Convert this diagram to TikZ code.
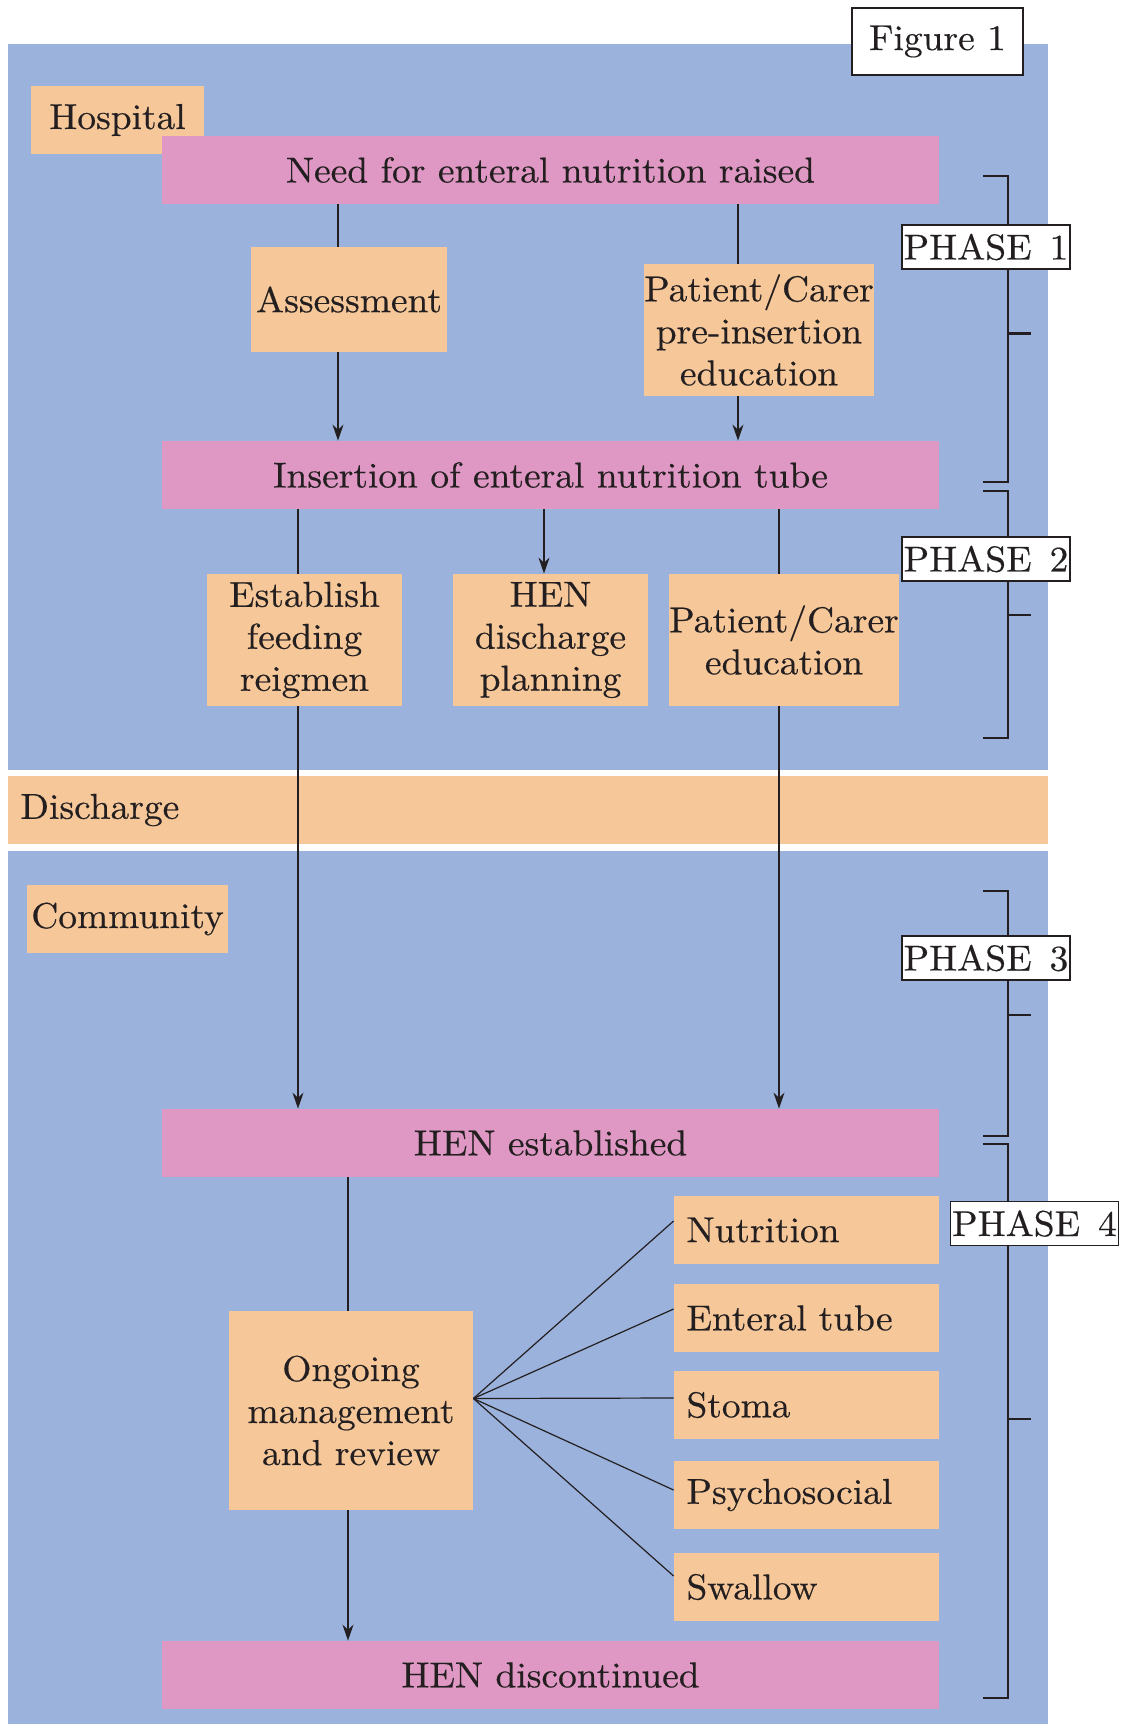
\documentclass[tikz,border=0pt]{standalone}
\usepackage{fontspec}
\setmainfont{lmroman10-regular.otf}[FakeStretch=1.04, FakeBold=0.4]
\usetikzlibrary{arrows.meta,calc}
\definecolor{bluebg}{RGB}{155,178,220}
\definecolor{orangebox}{RGB}{246,199,153}
\definecolor{pinkbox}{RGB}{223,152,195}
\definecolor{ink}{RGB}{35,31,32}
\begin{document}
\begin{tikzpicture}[x=0.5pt,y=-0.5pt,
  every node/.style={font=\fontsize{18}{21}\selectfont, text=ink, inner sep=0pt},
  obox/.style={fill=orangebox, align=center},
  pbox/.style={fill=pinkbox, minimum width=388.5pt, minimum height=34pt},
  lbox/.style={fill=orangebox, minimum width=132.5pt, minimum height=34pt, text width=120pt, align=left},
  phbox/.style={draw=ink, line width=0.6pt, fill=white, minimum width=84pt, minimum height=22pt},
  conn/.style={draw=ink, line width=0.8pt},
  fanline/.style={draw=ink, line width=0.6pt},
  arr/.style={conn, -{Stealth[length=8pt,width=5.5pt]}},
  brk/.style={draw=ink, line width=1.4pt},
]
\useasboundingbox (0,0) rectangle (1123,1724);
% backgrounds
\fill[bluebg] (8,44) rectangle (1048,770);
\fill[orangebox] (8,776) rectangle (1048,844);
\fill[bluebg] (8,851) rectangle (1048,1724);

\node[draw=ink, line width=0.6pt, fill=white, minimum width=85.5pt, minimum height=33.5pt] (fig) at (937.5,41.5) {Figure 1};

% labels
\node[obox, minimum width=86.5pt, minimum height=34pt] (hosp) at (117.5,120) {Hospital};
\node[anchor=west] (disch) at (20,810) {Discharge};
\node[obox, minimum width=100.5pt, minimum height=34pt] (comm) at (127.5,919) {Community};

% main boxes
\node[pbox] (need) at (550.5,170) {Need for enteral nutrition raised};
\node[obox, minimum width=98pt, minimum height=52.5pt] (assess) at (349,299.5) {Assessment};
\node[obox, minimum width=115pt, minimum height=66pt] (preedu) at (759,330) {Patient/Carer\\pre-insertion\\education};
\node[pbox] (insert) at (550.5,475) {Insertion of enteral nutrition tube};
\node[obox, minimum width=97.5pt, minimum height=66pt] (estab) at (304.5,640) {Establish\\feeding\\reigmen};
\node[obox, minimum width=97.5pt, minimum height=66pt] (hendp) at (550.5,640) {HEN\\discharge\\planning};
\node[obox, minimum width=114pt, minimum height=66pt] (edu) at (784,640) {Patient/Carer\\education};
\node[pbox] (established) at (550.5,1143) {HEN established};
\node[obox, minimum width=122pt, minimum height=99.5pt] (ongoing) at (351,1410.5) {Ongoing\\management\\and review};
\node[lbox] (nut) at (806.5,1230) {Nutrition};
\node[lbox] (tube) at (806.5,1318) {Enteral tube};
\node[lbox] (stoma) at (806.5,1405) {Stoma};
\node[lbox] (psy) at (806.5,1495) {Psychosocial};
\node[lbox] (swallow) at (806.5,1587) {Swallow};
\node[pbox] (discont) at (550.5,1675) {HEN discontinued};

% connector x positions
\coordinate (xa) at (338,0);
\coordinate (xb) at (738,0);
\coordinate (xc) at (298,0);
\coordinate (xd) at (544,0);
\coordinate (xe) at (779,0);
\coordinate (xf) at (348,0);

\draw[conn] (need.south -| xa) -- (assess.north -| xa);
\draw[arr] (assess.south -| xa) -- (insert.north -| xa);
\draw[conn] (need.south -| xb) -- (preedu.north -| xb);
\draw[arr] (preedu.south -| xb) -- (insert.north -| xb);
\draw[conn] (insert.south -| xc) -- (estab.north -| xc);
\draw[arr] (estab.south -| xc) -- (established.north -| xc);
\draw[arr] (insert.south -| xd) -- (hendp.north -| xd);
\draw[conn] (insert.south -| xe) -- (edu.north -| xe);
\draw[arr] (edu.south -| xe) -- (established.north -| xe);
\draw[conn] (established.south -| xf) -- (ongoing.north -| xf);
\draw[arr] (ongoing.south -| xf) -- (discont.north -| xf);

% fan
\coordinate (fan) at ([yshift=6pt]ongoing.east);
\draw[fanline] (fan) -- ([yshift=4.5pt]nut.west);
\draw[fanline] (fan) -- ([yshift=4.5pt]tube.west);
\draw[fanline] (fan) -- ([yshift=3.5pt]stoma.west);
\draw[fanline] (fan) -- ([yshift=2.5pt]psy.west);
\draw[fanline] (fan) -- ([yshift=5.5pt]swallow.west);

% brackets
\draw[brk] (983,176) -- (1008,176) -- (1008,482) -- (983,482);
\draw[brk] (1008,333.5) -- (1031,333.5);
\draw[brk] (983,491) -- (1008,491) -- (1008,738) -- (983,738);
\draw[brk] (1008,615) -- (1031,615);
\draw[brk] (983,891) -- (1008,891) -- (1008,1136) -- (983,1136);
\draw[brk] (1008,1015) -- (1031,1015);
\draw[brk] (983,1144) -- (1008,1144) -- (1008,1698) -- (983,1698);
\draw[brk] (1008,1419) -- (1031,1419);

\node[phbox] (ph1) at (986,247) {PHASE\hspace{0.5em}1};
\node[phbox] (ph2) at (986,559) {PHASE\hspace{0.5em}2};
\node[phbox] (ph3) at (986,958) {PHASE\hspace{0.5em}3};
\node[phbox] (ph4) at (1034.5,1223.5) {PHASE\hspace{0.5em}4};
\end{tikzpicture}
\end{document}
